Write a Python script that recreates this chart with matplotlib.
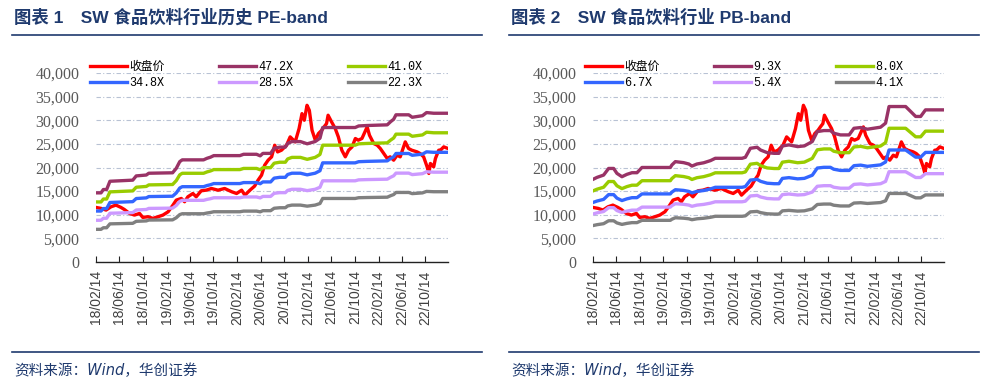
import pandas as pd
import matplotlib
matplotlib.use('Agg')
import matplotlib.pyplot as plt
from matplotlib.lines import Line2D
from matplotlib.ticker import FuncFormatter, MultipleLocator
import matplotlib.dates as mdates

# 收盘价 (SW 食品饮料指数), 读图估计
close_dates = ['2018-02-14', '2018-03-13', '2018-04-07', '2018-05-03', '2018-05-28', '2018-06-23',
               '2018-07-10', '2018-08-06', '2018-09-01', '2018-09-27', '2018-10-14', '2018-11-10',
               '2018-12-05', '2019-01-01', '2019-01-26', '2019-02-22', '2019-03-19', '2019-04-05',
               '2019-05-01', '2019-05-18', '2019-06-04', '2019-06-30', '2019-07-17', '2019-08-12',
               '2019-09-07', '2019-10-04', '2019-11-07', '2019-12-11', '2020-01-17', '2020-02-11',
               '2020-03-08', '2020-03-25', '2020-04-20', '2020-05-14', '2020-06-01', '2020-06-19',
               '2020-07-05', '2020-07-23', '2020-08-10', '2020-08-26', '2020-09-10', '2020-09-30',
               '2020-10-26', '2020-11-14', '2020-12-10', '2020-12-30', '2021-01-14', '2021-01-26',
               '2021-02-09', '2021-02-21', '2021-03-07', '2021-03-24', '2021-04-09', '2021-04-26',
               '2021-05-08', '2021-05-21', '2021-05-29', '2021-06-16', '2021-07-05', '2021-07-21',
               '2021-08-08', '2021-08-26', '2021-09-12', '2021-09-30', '2021-10-17', '2021-11-01',
               '2021-11-20', '2021-12-17', '2021-12-29', '2022-01-20', '2022-02-07', '2022-02-23',
               '2022-03-13', '2022-03-31', '2022-04-15', '2022-05-03', '2022-05-21', '2022-06-06',
               '2022-07-02', '2022-07-19', '2022-08-05', '2022-09-01', '2022-09-17', '2022-10-05',
               '2022-10-23', '2022-11-01', '2022-11-09', '2022-11-26', '2022-12-05', '2022-12-22',
               '2022-12-31', '2023-01-17', '2023-02-08']
close_vals = [11550, 11340, 10990, 11690, 12040, 11550,
              11130, 10280, 9930, 10280, 9440, 9580,
              9230, 9580, 9930, 10630, 12040, 13100,
              13450, 12750, 13800, 14500, 13800, 15070,
              15210, 15560, 15200, 15560, 14860, 14500,
              15200, 14150, 15200, 16060, 17320, 18380,
              20490, 21550, 22250, 24710, 23300, 23660,
              24710, 26480, 25420, 28240, 31400, 30000,
              33160, 32100, 27880, 25770, 27180, 27880,
              28590, 29290, 31060, 29650, 28240, 26480,
              23660, 22260, 23660, 24370, 26130, 25780,
              26130, 28590, 26830, 25070, 24720, 24020,
              22960, 21900, 22260, 21550, 22610, 22260,
              25420, 24020, 23660, 23310, 22960, 22260,
              20140, 18740, 20850, 20140, 21900, 23660,
              23660, 24370, 24020]

# 每股收益 (PE-band 基准)
eps_dates = ['2018-02-14', '2018-03-12', '2018-03-24', '2018-04-10', '2018-04-27', '2018-08-23',
             '2018-09-10', '2018-11-01', '2018-11-14', '2019-03-17', '2019-04-05', '2019-04-23',
             '2019-05-06', '2019-08-24', '2019-09-11', '2019-09-29', '2019-10-16', '2020-02-28',
             '2020-03-18', '2020-05-24', '2020-06-12', '2020-06-26', '2020-08-05', '2020-08-23',
             '2020-09-21', '2020-10-20', '2020-11-01', '2020-11-23', '2021-01-06', '2021-02-10',
             '2021-03-23', '2021-04-17', '2021-05-01', '2021-10-16', '2021-11-03', '2021-12-16',
             '2022-03-31', '2022-04-17', '2022-05-03', '2022-05-15', '2022-07-20', '2022-08-07',
             '2022-09-29', '2022-10-20', '2022-11-26', '2023-02-08']
eps_vals = [310, 310, 325, 325, 362, 367, 386, 390, 398, 400, 420, 450,
            458, 458, 465, 470, 477, 477, 483, 483, 476, 487, 487, 510,
            515, 515, 532, 540, 540, 530, 540, 555, 603, 603, 610, 612,
            615, 629, 640, 660, 660, 649, 656, 670, 667, 667]

# 每股净资产 (PB-band 基准)
bps_dates = ['2018-02-14', '2018-03-07', '2018-04-10', '2018-05-06', '2018-06-01', '2018-06-18',
             '2018-07-14', '2018-08-09', '2018-09-04', '2018-09-30', '2018-10-26', '2019-03-22',
             '2019-03-30', '2019-04-17', '2019-05-30', '2019-06-26', '2019-07-12', '2019-08-07',
             '2019-09-11', '2019-10-16', '2019-11-10', '2020-03-28', '2020-04-14', '2020-05-10',
             '2020-06-14', '2020-07-02', '2020-08-05', '2020-09-10', '2020-10-05', '2020-10-23',
             '2020-11-26', '2021-01-10', '2021-02-14', '2021-03-27', '2021-04-22', '2021-05-26',
             '2021-06-29', '2021-07-16', '2021-08-20', '2021-10-04', '2021-10-29', '2021-12-03',
             '2022-01-07', '2022-03-16', '2022-04-11', '2022-04-29', '2022-07-24', '2022-08-19',
             '2022-09-14', '2022-10-10', '2022-11-04', '2023-02-08']
bps_vals = [1881, 1926, 1978, 2129, 2129, 2017, 1941, 1995, 2032, 2032, 2151, 2151,
            2208, 2284, 2261, 2230, 2183, 2230, 2258, 2307, 2360, 2360, 2383, 2588,
            2611, 2548, 2489, 2473, 2473, 2641, 2665, 2626, 2642, 2741, 2968, 2991,
            2991, 2931, 2892, 2892, 3043, 3060, 3022, 3068, 3159, 3538, 3538, 3426,
            3312, 3312, 3462, 3462]

pe_multiples = [47.2, 41.0, 34.8, 28.5, 22.3]
pb_multiples = [9.3, 8.0, 6.7, 5.4, 4.1]
band_colors = ['#993366', '#99CC00', '#3366FF', '#CC99FF', '#808080']

titles = ['图表 1　SW 食品饮料行业历史 PE-band', '图表 2　SW 食品饮料行业 PB-band']
source_text = '资料来源：Wind，华创证券'
navy = '#1F3A6E'

W, H = 987, 389
fig = plt.figure(figsize=(W / 100, H / 100), dpi=100)

tick_dates = pd.date_range('2018-02-01', '2022-10-01', freq='4MS') + pd.Timedelta(days=13)


def draw_panel(ax, base_dates, base_vals, multiples, leg_x):
    cd = pd.to_datetime(close_dates)
    bd = pd.to_datetime(base_dates)
    red, = ax.plot(cd, close_vals, color='#FF0000', lw=2.4, label='收盘价', zorder=3)
    bands = []
    for m, c in zip(multiples, band_colors):
        ln, = ax.plot(bd, [m * v for v in base_vals], color=c, lw=2.4,
                      label=f'{m:.1f}X', zorder=3)
        bands.append(ln)

    ax.set_ylim(0, 40000)
    ax.set_xlim(pd.Timestamp('2018-02-14'), pd.Timestamp('2023-02-08'))
    ax.yaxis.set_major_locator(MultipleLocator(5000))
    ax.yaxis.set_major_formatter(FuncFormatter(lambda v, p: f'{v:,.0f}'))
    ax.set_xticks(tick_dates)
    ax.xaxis.set_major_formatter(mdates.DateFormatter('%y/%m/%d'))

    ax.yaxis.grid(True, color='#B8C2D4', lw=0.8, linestyle=(0, (4, 2, 1, 2)))
    ax.set_axisbelow(True)
    for s in ['top', 'left', 'right']:
        ax.spines[s].set_visible(False)
    ax.spines['bottom'].set_color('#222222')
    ax.spines['bottom'].set_linewidth(1.0)
    ax.tick_params(axis='y', length=0, pad=12, labelcolor='#595959')
    ax.tick_params(axis='x', direction='in', length=4, color='#222222',
                   pad=6, labelcolor='#404040', labelrotation=90)
    for lab in ax.get_yticklabels():
        lab.set_fontfamily('Liberation Serif')
        lab.set_fontsize(11.5)
    for lab in ax.get_xticklabels():
        lab.set_fontfamily('Liberation Sans')
        lab.set_fontsize(10)

    # 图例按行排列: 收盘价, 第1,2条 / 第3,4,5条
    order = [red, bands[2], bands[0], bands[3], bands[1], bands[4]]
    fig.legend(handles=order, labels=[h.get_label() for h in order], ncol=3,
               loc='upper left', bbox_to_anchor=(leg_x / W, 1 - 61 / H),
               frameon=False, borderpad=0, borderaxespad=0,
               handlelength=3.1, handletextpad=0.25, columnspacing=4.6,
               labelspacing=0.35,
               prop={'family': ['Liberation Mono', 'Noto Sans CJK SC'], 'size': 8.5})


ax1 = fig.add_axes([96 / W, 1 - 262 / H, 352 / W, 189 / H])
draw_panel(ax1, eps_dates, eps_vals, pe_multiples, 90)
ax2 = fig.add_axes([593 / W, 1 - 262 / H, 351 / W, 189 / H])
draw_panel(ax2, bps_dates, bps_vals, pb_multiples, 585)

for x0, x1, t in [(12, 482, titles[0]), (509, 979, titles[1])]:
    fig.text((x0 + 2) / W, 1 - 17 / H, t, color=navy, fontsize=12.5, fontweight='bold',
             va='center', ha='left', family=['Liberation Sans', 'Noto Sans CJK SC'])
    fig.add_artist(Line2D([x0 / W, x1 / W], [1 - 35 / H] * 2, color=navy, lw=1.2))
    fig.add_artist(Line2D([x0 / W, x1 / W], [1 - 352 / H] * 2, color=navy, lw=1.2))
    fig.text((x0 + 2) / W, 1 - 371 / H, source_text, color=navy, fontsize=10.5,
             style='italic', va='center', ha='left', family=['DejaVu Sans', 'Noto Sans CJK SC'])

fig.savefig('out.png', dpi=100)
